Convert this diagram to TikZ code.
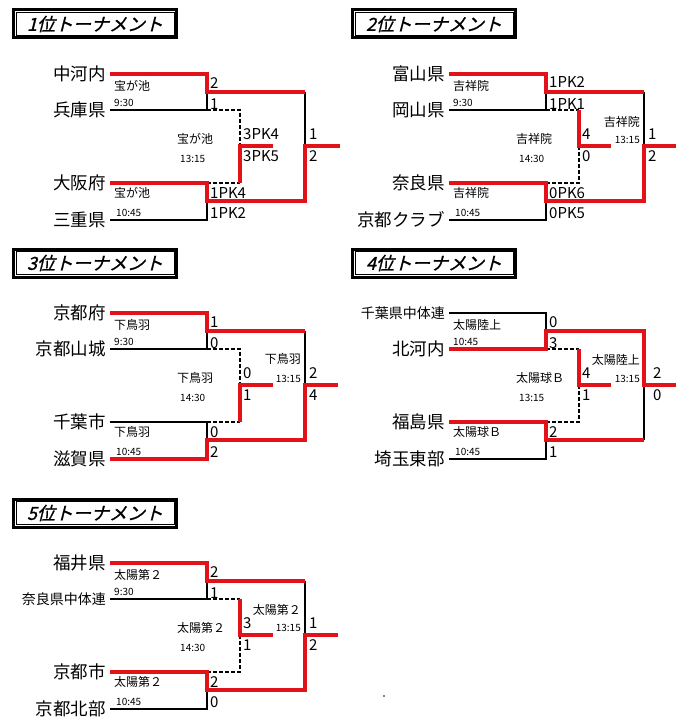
\documentclass[tikz,border=0pt]{standalone}
\usepackage{fontspec}
\setmainfont{Noto Sans CJK JP}
\newfontfamily\titlefont[FakeSlant=0.25,FakeBold=1]{Noto Sans CJK JP}
\definecolor{winred}{RGB}{226,18,24}

\begin{document}
\begin{tikzpicture}[x=1pt, y=-1pt, every node/.style={inner sep=0pt},
  team/.style={anchor=east, inner xsep=4pt, font=\fontsize{17.5}{17.5}\selectfont},
  smallteam/.style={team, font=\fontsize{14}{14}\selectfont},
  titlebox/.style={draw, line width=3pt, minimum width=163pt, minimum height=28pt, font=\titlefont\fontsize{18}{18}\selectfont},
  score/.style={anchor=west, font=\fontsize{15}{15}\selectfont},
  venue/.style={anchor=west, font=\fontsize{12}{12}\selectfont},
  venueR/.style={venue, anchor=east},
  kickoff/.style={anchor=west, font=\fontsize{10}{10}\selectfont},
  kickoffR/.style={kickoff, anchor=east},
  lost/.style={line width=2.2pt},
  won/.style={line width=3.2pt, winred},
  waiting/.style={line width=1.8pt, dash pattern=on 4pt off 2pt}]
\useasboundingbox (0,0) rectangle (684,727);

% 1位
\begin{scope}[name prefix=A-]
  \node[titlebox] (title) at (95,24) {1位トーナメント};
  \draw[line width=0.8pt] ([shift={(4,4)}]title.north west) rectangle ([shift={(-4,-4)}]title.south east);
  \node[team] (t1) at (110,74) {中河内};
  \node[team] (t2) at (110,110) {兵庫県};
  \node[team] (t3) at (110,183) {大阪府};
  \node[team] (t4) at (110,220) {三重県};
  \coordinate (j1) at (207,92);
  \coordinate (j2) at (207,201);
  \coordinate (m) at (240,146);
  \coordinate (mo) at (273,146);
  \coordinate (f) at (305,146);
  \coordinate (fo) at (340,146);
  \draw[lost] (t2.east) -| (j1);
  \draw[lost] (t4.east) -| (j2);
  \draw[lost] (j1 -| f) -- (f);
  \draw[waiting] (t2.east -| j1) -| (m);
  \draw[waiting] (t3.east -| j1) -- (t3.east -| m);
  \draw[won] (t1.east) -| (j1) -- (j1 -| f);
  \draw[won] (t3.east) -| (j2) -- (j2 -| f) -- (f) -- (fo);
  \draw[won] (t3.east -| m) -- (m) -- (mo);
  \node[score] (s1) at (210,83) {2};
  \node[score] (s2) at (210,104) {1};
  \node[score] (s3) at (210,193) {1PK4};
  \node[score] (s4) at (210,213) {1PK2};
  \node[score] (s5) at (243,134) {3PK4};
  \node[score] (s6) at (243,156) {3PK5};
  \node[score] (s7) at (309,134) {1};
  \node[score] (s8) at (309,156) {2};
  \node[venue] (v1) at (114,86) {宝が池};
  \node[kickoff] (k1) at (114,103) {9:30};
  \node[venue] (v2) at (114,193) {宝が池};
  \node[kickoff] (k2) at (116,213) {10:45};
  \node[venue] (v3) at (177,139) {宝が池};
  \node[kickoff] (k3) at (180,159) {13:15};
\end{scope}

% 2位
\begin{scope}[shift={(339,0)}, name prefix=B-]
  \node[titlebox] (title) at (95,24) {2位トーナメント};
  \draw[line width=0.8pt] ([shift={(4,4)}]title.north west) rectangle ([shift={(-4,-4)}]title.south east);
  \node[team] (t1) at (110,74) {富山県};
  \node[team] (t2) at (110,110) {岡山県};
  \node[team] (t3) at (110,183) {奈良県};
  \node[team] (t4) at (110,220) {京都クラブ};
  \coordinate (j1) at (207,92);
  \coordinate (j2) at (207,201);
  \coordinate (m) at (240,146);
  \coordinate (mo) at (272,146);
  \coordinate (f) at (305,146);
  \coordinate (fo) at (337,146);
  \draw[lost] (t2.east) -| (j1);
  \draw[lost] (t4.east) -| (j2);
  \draw[lost] (j1 -| f) -- (f);
  \draw[waiting] (t2.east -| j1) -- (t2.east -| m);
  \draw[waiting] (t3.east -| j1) -| (m);
  \draw[won] (t1.east) -| (j1) -- (j1 -| f);
  \draw[won] (t3.east) -| (j2) -- (j2 -| f) -- (f) -- (fo);
  \draw[won] (t2.east -| m) -- (m) -- (mo);
  \node[score] (s1) at (210,82) {1PK2};
  \node[score] (s2) at (210,104) {1PK1};
  \node[score] (s3) at (210,193) {0PK6};
  \node[score] (s4) at (210,213) {0PK5};
  \node[score] (s5) at (243,134) {4};
  \node[score] (s6) at (243,156) {0};
  \node[score] (s7) at (309,134) {1};
  \node[score] (s8) at (309,156) {2};
  \node[venue] (v1) at (114,86) {吉祥院};
  \node[kickoff] (k1) at (114,103) {9:30};
  \node[venue] (v2) at (114,193) {吉祥院};
  \node[kickoff] (k2) at (116,213) {10:45};
  \node[venue] (v3) at (177,139) {吉祥院};
  \node[kickoff] (k3) at (180,159) {14:30};
  \node[venueR] (v4) at (301,122) {吉祥院};
  \node[kickoffR] (k4) at (301,140) {13:15};
\end{scope}

% 3位
\begin{scope}[shift={(0,239)}, name prefix=C-]
  \node[titlebox] (title) at (95,24) {3位トーナメント};
  \draw[line width=0.8pt] ([shift={(4,4)}]title.north west) rectangle ([shift={(-4,-4)}]title.south east);
  \node[team] (t1) at (110,74) {京都府};
  \node[team] (t2) at (110,110) {京都山城};
  \node[team] (t3) at (110,183) {千葉市};
  \node[team] (t4) at (110,220) {滋賀県};
  \coordinate (j1) at (207,92);
  \coordinate (j2) at (207,201);
  \coordinate (m) at (240,146);
  \coordinate (mo) at (273,146);
  \coordinate (f) at (305,146);
  \coordinate (fo) at (338,146);
  \draw[lost] (t2.east) -| (j1);
  \draw[lost] (t3.east) -| (j2);
  \draw[lost] (j1 -| f) -- (f);
  \draw[waiting] (t2.east -| j1) -| (m);
  \draw[waiting] (t3.east -| j1) -- (t3.east -| m);
  \draw[won] (t1.east) -| (j1) -- (j1 -| f);
  \draw[won] (t4.east) -| (j2) -- (j2 -| f) -- (f) -- (fo);
  \draw[won] (t3.east -| m) -- (m) -- (mo);
  \node[score] (s1) at (210,83) {1};
  \node[score] (s2) at (210,104) {0};
  \node[score] (s3) at (210,193) {0};
  \node[score] (s4) at (210,213) {2};
  \node[score] (s5) at (243,134) {0};
  \node[score] (s6) at (243,156) {1};
  \node[score] (s7) at (309,134) {2};
  \node[score] (s8) at (309,156) {4};
  \node[venue] (v1) at (114,86) {下鳥羽};
  \node[kickoff] (k1) at (114,103) {9:30};
  \node[venue] (v2) at (114,193) {下鳥羽};
  \node[kickoff] (k2) at (116,213) {10:45};
  \node[venue] (v3) at (177,139) {下鳥羽};
  \node[kickoff] (k3) at (180,159) {14:30};
  \node[venueR] (v4) at (301,120) {下鳥羽};
  \node[kickoffR] (k4) at (301,140) {13:15};
\end{scope}

% 4位
\begin{scope}[shift={(339,239)}, name prefix=D-]
  \node[titlebox] (title) at (95,24) {4位トーナメント};
  \draw[line width=0.8pt] ([shift={(4,4)}]title.north west) rectangle ([shift={(-4,-4)}]title.south east);
  \node[smallteam] (t1) at (110,74) {千葉県中体連};
  \node[team] (t2) at (110,110) {北河内};
  \node[team] (t3) at (110,183) {福島県};
  \node[team] (t4) at (110,220) {埼玉東部};
  \coordinate (j1) at (207,92);
  \coordinate (j2) at (207,201);
  \coordinate (m) at (240,146);
  \coordinate (mo) at (272,146);
  \coordinate (f) at (305,146);
  \coordinate (fo) at (337,146);
  \draw[lost] (t1.east) -| (j1);
  \draw[lost] (t4.east) -| (j2);
  \draw[lost] (j2 -| f) -- (f);
  \draw[waiting] (t2.east -| j1) -- (t2.east -| m);
  \draw[waiting] (t3.east -| j1) -| (m);
  \draw[won] (t3.east) -| (j2) -- (j2 -| f);
  \draw[won] (t2.east) -| (j1) -- (j1 -| f) -- (f) -- (fo);
  \draw[won] (t2.east -| m) -- (m) -- (mo);
  \node[score] (s1) at (210,83) {0};
  \node[score] (s2) at (210,104) {3};
  \node[score] (s3) at (210,193) {2};
  \node[score] (s4) at (210,213) {1};
  \node[score] (s5) at (243,134) {4};
  \node[score] (s6) at (243,156) {1};
  \node[score] (s7) at (314,134) {2};
  \node[score] (s8) at (314,156) {0};
  \node[venue] (v1) at (114,86) {太陽陸上};
  \node[kickoff] (k1) at (114,103) {10:45};
  \node[venue] (v2) at (114,193) {太陽球Ｂ};
  \node[kickoff] (k2) at (116,213) {10:45};
  \node[venue] (v3) at (177,139) {太陽球Ｂ};
  \node[kickoff] (k3) at (180,159) {13:15};
  \node[venueR] (v4) at (301,121) {太陽陸上};
  \node[kickoffR] (k4) at (301,140) {13:15};
\end{scope}

% 5位
\begin{scope}[shift={(0,489)}, name prefix=E-]
  \node[titlebox] (title) at (95,24) {5位トーナメント};
  \draw[line width=0.8pt] ([shift={(4,4)}]title.north west) rectangle ([shift={(-4,-4)}]title.south east);
  \node[team] (t1) at (110,74) {福井県};
  \node[smallteam] (t2) at (110,110) {奈良県中体連};
  \node[team] (t3) at (110,183) {京都市};
  \node[team] (t4) at (110,220) {京都北部};
  \coordinate (j1) at (207,92);
  \coordinate (j2) at (207,201);
  \coordinate (m) at (240,146);
  \coordinate (mo) at (273,146);
  \coordinate (f) at (305,146);
  \coordinate (fo) at (338,146);
  \draw[lost] (t2.east) -| (j1);
  \draw[lost] (t4.east) -| (j2);
  \draw[lost] (j1 -| f) -- (f);
  \draw[waiting] (t2.east -| j1) -- (t2.east -| m);
  \draw[waiting] (t3.east -| j1) -| (m);
  \draw[won] (t1.east) -| (j1) -- (j1 -| f);
  \draw[won] (t3.east) -| (j2) -- (j2 -| f) -- (f) -- (fo);
  \draw[won] (t2.east -| m) -- (m) -- (mo);
  \node[score] (s1) at (210,83) {2};
  \node[score] (s2) at (210,104) {1};
  \node[score] (s3) at (210,193) {2};
  \node[score] (s4) at (210,213) {0};
  \node[score] (s5) at (243,134) {3};
  \node[score] (s6) at (243,156) {1};
  \node[score] (s7) at (309,134) {1};
  \node[score] (s8) at (309,156) {2};
  \node[venue] (v1) at (114,86) {太陽第２};
  \node[kickoff] (k1) at (114,103) {9:30};
  \node[venue] (v2) at (114,193) {太陽第２};
  \node[kickoff] (k2) at (116,213) {10:45};
  \node[venue] (v3) at (177,139) {太陽第２};
  \node[kickoff] (k3) at (180,159) {14:30};
  \node[venueR] (v4) at (301,121) {太陽第２};
  \node[kickoffR] (k4) at (301,139) {13:15};
\end{scope}

\fill (384,696) circle (0.8);
\end{tikzpicture}
\end{document}
